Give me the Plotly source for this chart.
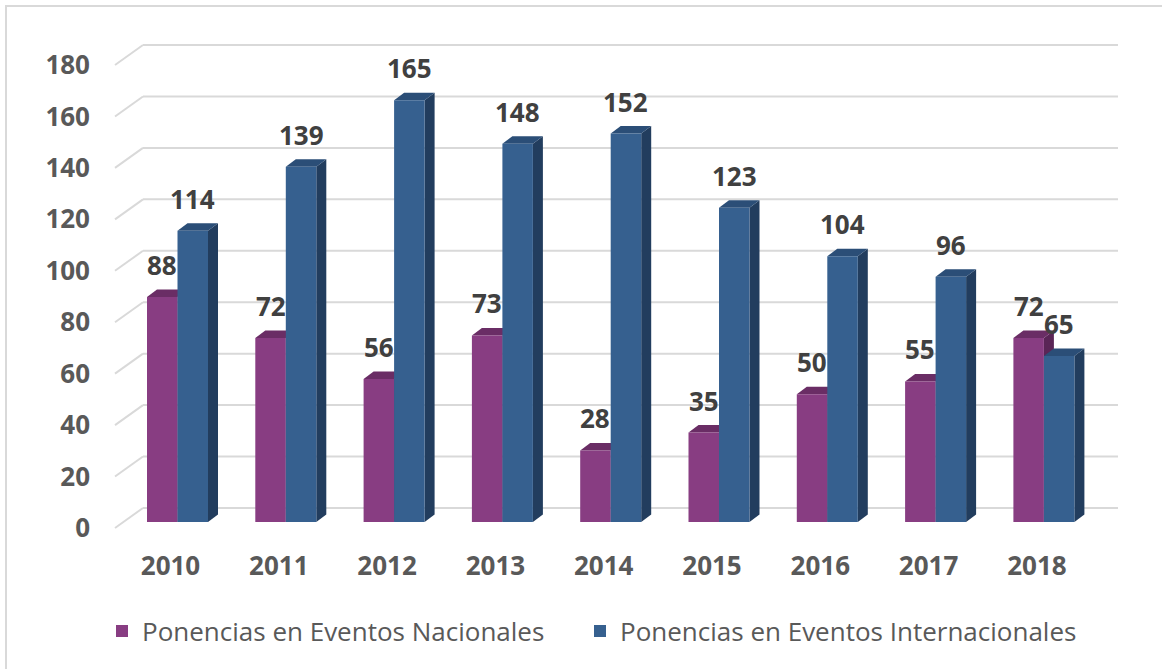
import plotly.graph_objects as go

# ---- data ----
years = ["2010", "2011", "2012", "2013", "2014", "2015", "2016", "2017", "2018"]
nacionales = [88, 72, 56, 73, 28, 35, 50, 55, 72]
internacionales = [114, 139, 165, 148, 152, 123, 104, 96, 65]
y_ticks = [0, 20, 40, 60, 80, 100, 120, 140, 160, 180]
series_names = ["Ponencias en Eventos Nacionales", "Ponencias en Eventos Internacionales"]

# ---- styling / geometry (pixels) ----
W, H = 1162, 669
L, R, T, B = 143, 44, 20, 129
plot_w = W - L - R
plot_h = H - T - B
px_per_cat = 108.3
px_per_unit = 2.5556          # front (bar) plane
back_px_per_unit = 2.572      # back wall / label plane
first_cat_px = 170.5
bar_px = 30.5
purple_left_px = 147.0
depth_dx_px, depth_dy_px = 10.0, 7.5
bar_zero_px = 522.0
back_zero_px = 508.0
front_zero_px = 528.0

x0 = -(first_cat_px - L) / px_per_cat
x1 = x0 + plot_w / px_per_cat
y0 = -((T + plot_h) - bar_zero_px) / px_per_unit
y1 = y0 + plot_h / px_per_unit
ly0 = -((T + plot_h) - front_zero_px) / back_px_per_unit
ly1 = ly0 + plot_h / back_px_per_unit

w = bar_px / px_per_cat
off_p = (purple_left_px - first_cat_px) / px_per_cat
off_b = off_p + w
ddx = depth_dx_px / px_per_cat
ddy = depth_dy_px / px_per_unit

c_purple, c_purple_top, c_purple_side = "#883D82", "#6A2D65", "#5A2556"
c_blue, c_blue_top, c_blue_side = "#36608F", "#2B4E77", "#223D5E"
grid_c = "#D9D9D9"
font_family = "Open Sans"

idx = list(range(len(years)))

fig = go.Figure()
fig.add_trace(go.Bar(x=idx, y=nacionales, width=w, offset=off_p, name=series_names[0],
                     marker=dict(color=c_purple, line=dict(width=0)), hoverinfo="y",
                     legend="legend"))
fig.add_trace(go.Bar(x=idx, y=internacionales, width=w, offset=off_b, name=series_names[1],
                     marker=dict(color=c_blue, line=dict(width=0)), hoverinfo="y",
                     legend="legend2"))
# invisible helper trace to carry the label axis
fig.add_trace(go.Scatter(x=[idx[0]], y=[0], yaxis="y2", mode="markers",
                         marker=dict(opacity=0), showlegend=False, hoverinfo="skip"))

shapes = []
def to_data_y_back(v):
    return (bar_zero_px - back_zero_px + v * back_px_per_unit) / px_per_unit
def to_data_y_front(v):
    return (bar_zero_px - front_zero_px + v * back_px_per_unit) / px_per_unit

diag_x0 = (115 - L) / plot_w
for v in y_ticks:
    yb = to_data_y_back(v)
    yf = to_data_y_front(v)
    shapes.append(dict(type="line", xref="paper", yref="y", x0=0, x1=1, y0=yb, y1=yb,
                       line=dict(color=grid_c, width=2), layer="below"))
    shapes.append(dict(type="line", xref="paper", yref="y", x0=diag_x0, x1=0, y0=yf, y1=yb,
                       line=dict(color=grid_c, width=2), layer="below"))

def faces(i, v, off, top_c, side_c):
    xl = i + off
    xr = xl + w
    top = f"M {xl},{v} L {xr},{v} L {xr+ddx},{v+ddy} L {xl+ddx},{v+ddy} Z"
    side = f"M {xr},0 L {xr},{v} L {xr+ddx},{v+ddy} L {xr+ddx},{ddy} Z"
    return [dict(type="path", xref="x", yref="y", path=side, fillcolor=side_c,
                 line=dict(width=0), layer="between"),
            dict(type="path", xref="x", yref="y", path=top, fillcolor=top_c,
                 line=dict(width=0), layer="between")]

for i, v in enumerate(nacionales):
    shapes += faces(i, v, off_p, c_purple_top, c_purple_side)
for i, v in enumerate(internacionales):
    shapes += faces(i, v, off_b, c_blue_top, c_blue_side)

# chart border
shapes.append(dict(type="rect", xref="paper", yref="paper",
                   x0=(6 - L) / plot_w, x1=(W + 10 - L) / plot_w,
                   y0=((T + plot_h) - (H + 10)) / plot_h, y1=((T + plot_h) - 6) / plot_h,
                   line=dict(color=grid_c, width=2), fillcolor="rgba(0,0,0,0)", layer="below"))

annotations = []
for series, off in ((nacionales, off_p), (internacionales, off_b)):
    for i, v in enumerate(series):
        annotations.append(dict(x=i + off + w / 2, y=v, xref="x", yref="y", text=str(v),
                                showarrow=False, yanchor="bottom", yshift=12,
                                font=dict(family=font_family, size=26, color="#404040",
                                          weight="bold")))

legend_font = dict(family=font_family, size=26, color="#595959")
legend_y = ((T + plot_h) - 631) / plot_h

fig.update_layout(
    width=W, height=H,
    margin=dict(l=L, r=R, t=T, b=B, autoexpand=False),
    paper_bgcolor="white", plot_bgcolor="rgba(0,0,0,0)",
    barmode="overlay",
    shapes=shapes, annotations=annotations,
    xaxis=dict(range=[x0, x1], tickmode="array", tickvals=idx, ticktext=years,
               showgrid=False, zeroline=False, showline=False, ticks="",
               ticklabelstandoff=8,
               tickfont=dict(family=font_family, size=26, color="#595959", weight="bold")),
    yaxis=dict(range=[y0, y1], showgrid=False, zeroline=False, showline=False,
               showticklabels=False, ticks=""),
    yaxis2=dict(range=[ly0, ly1], overlaying="y", side="left", tickmode="array",
                tickvals=y_ticks, showgrid=False, zeroline=False, showline=False, ticks="",
                ticklabelstandoff=52,
                tickfont=dict(family=font_family, size=26, color="#595959", weight="bold")),
    legend=dict(orientation="h", x=(102 - L) / plot_w, xanchor="left",
                y=legend_y, yanchor="middle", font=legend_font),
    legend2=dict(orientation="h", x=(580 - L) / plot_w, xanchor="left",
                 y=legend_y, yanchor="middle", font=legend_font),
    showlegend=True,
)

fig.write_html("out.html", config={"displayModeBar": False},
               post_script="document.body.style.margin='0';document.body.style.overflow='hidden';")
